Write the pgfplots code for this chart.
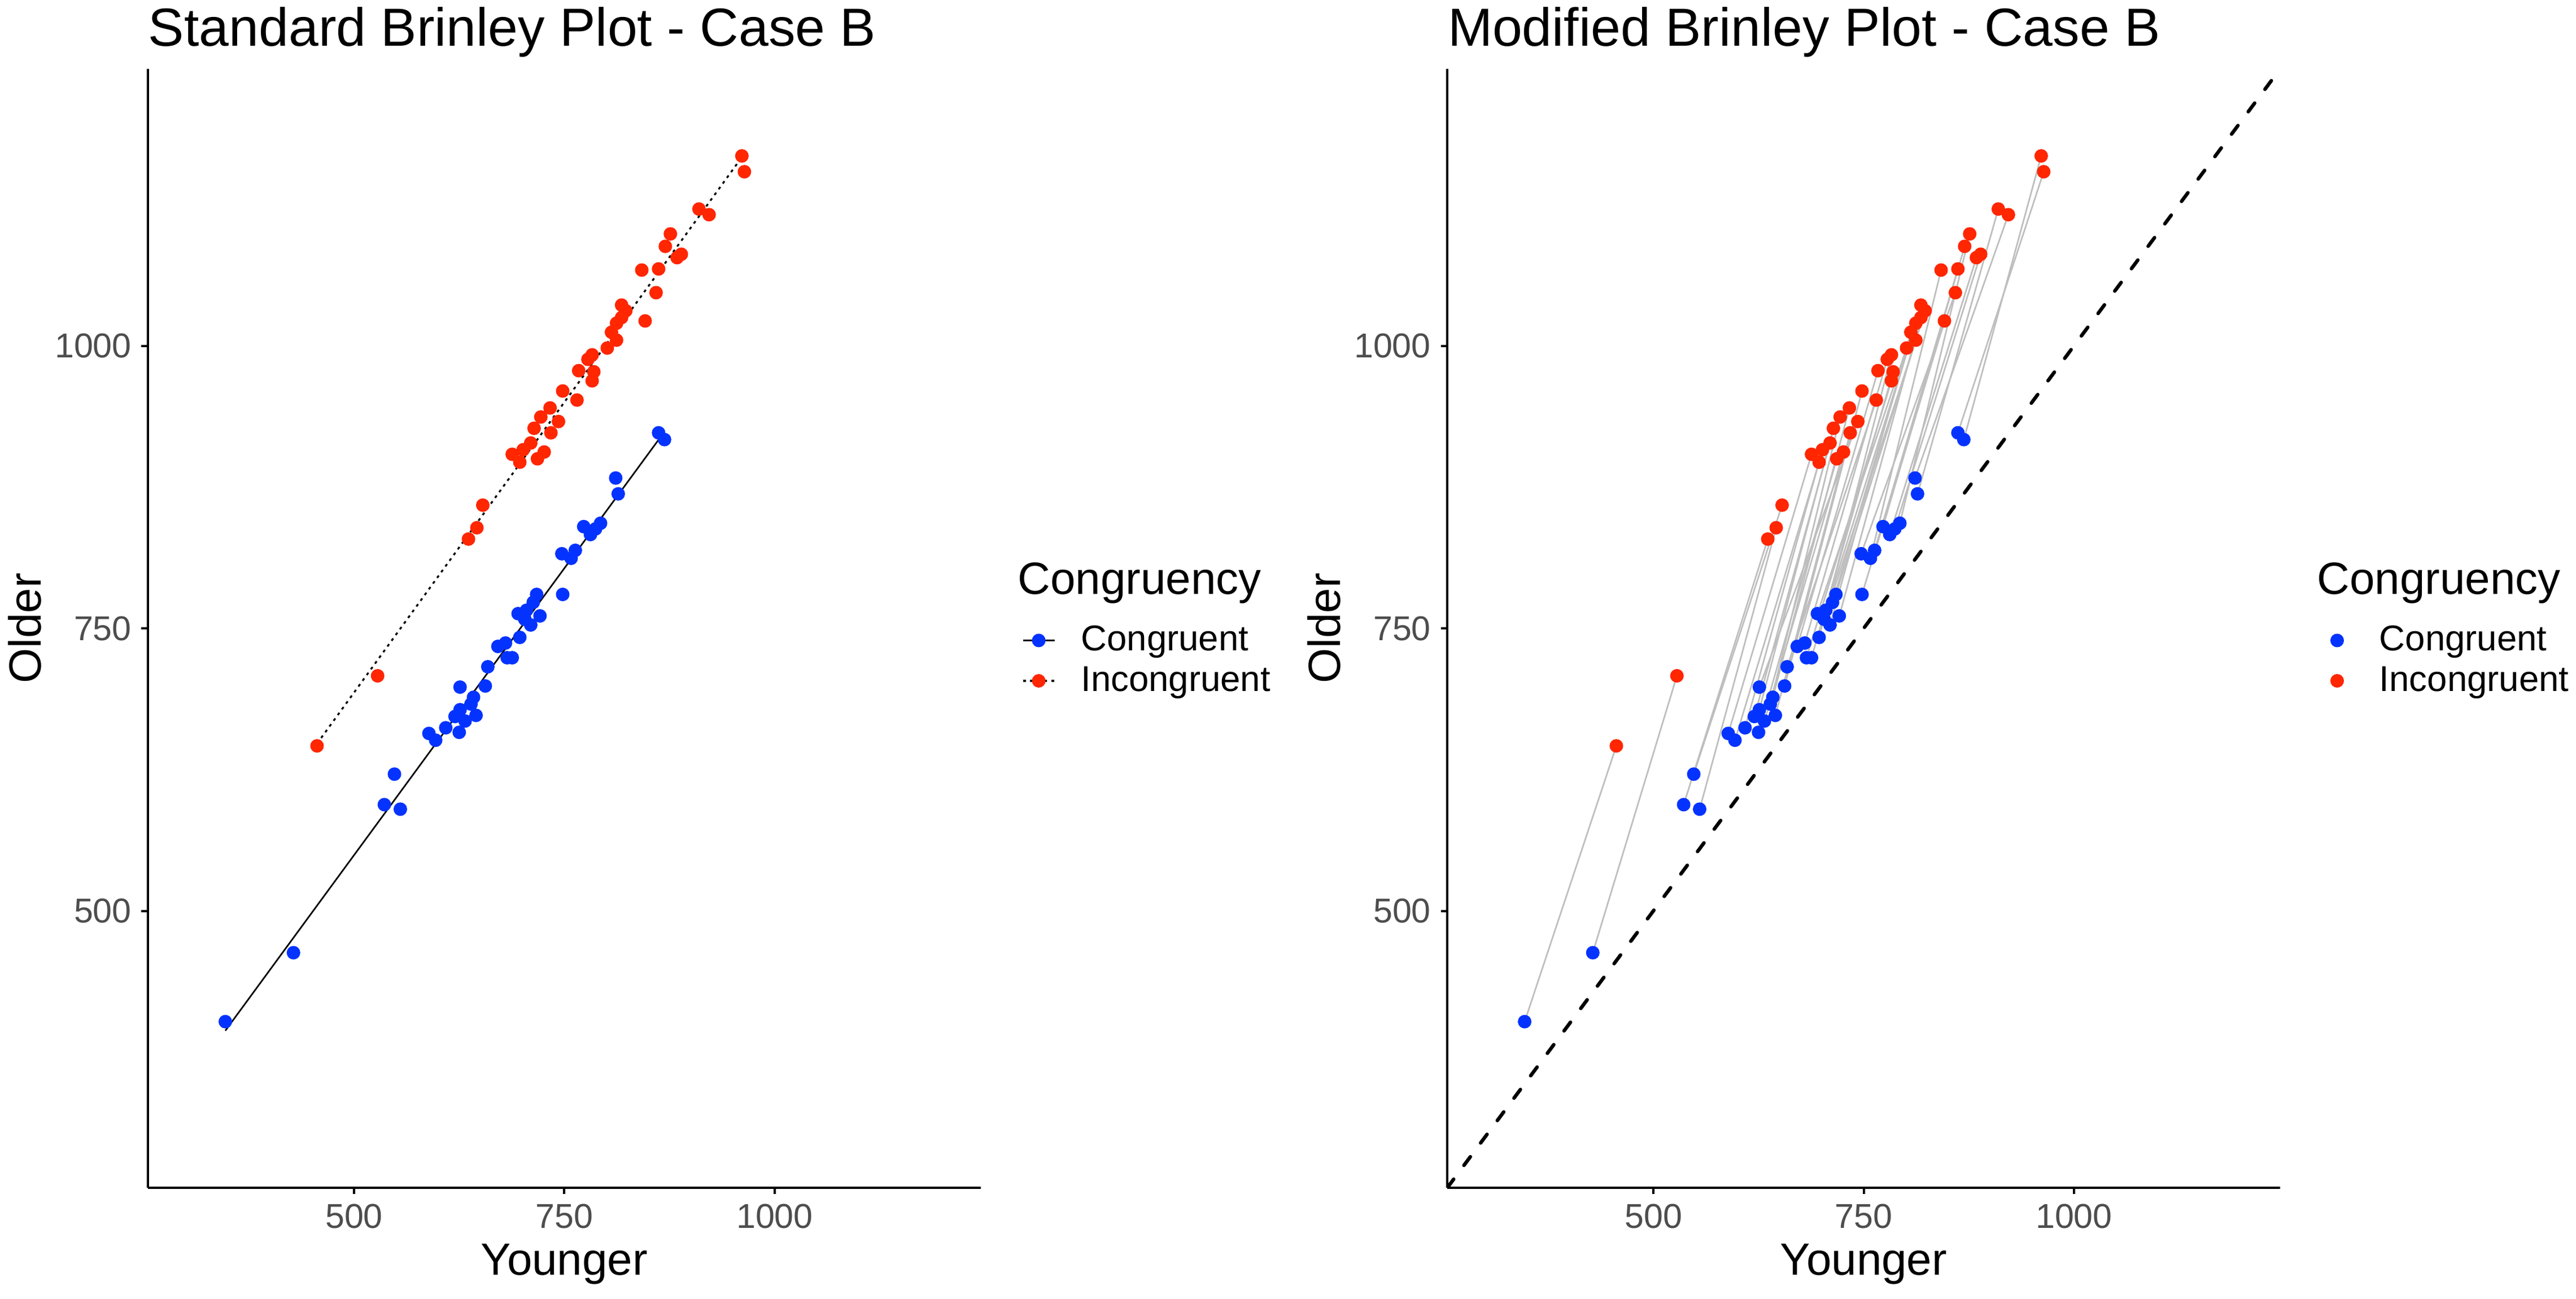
\documentclass[border=0pt]{standalone}
\usepackage{fontspec}
\setmainfont{Liberation Sans}
\usepackage{pgfplots}
\usepackage{pgfplotstable}
\pgfplotsset{compat=1.18}
\definecolor{cblue}{HTML}{0433FF}
\definecolor{cred}{HTML}{FF2600}
\definecolor{segs}{HTML}{BEBEBE}
\definecolor{tickgray}{HTML}{4D4D4D}

% xc,yc = congruent (Younger, Older); xi,yi = incongruent (Younger, Older)
\pgfplotstableread{
xc yc xi yi
347 402 456 646
428 463 528 708
536 594 636 829
555 590 646 839
548 621 653 859
589 657 688 904
597 651 697 897
609 662 701 908
625 658 718 900
620 672 710 914
632 668 726 906
626 678 714 927
645 673 734 923
639 683 722 937
626 698 743 933
642 689 733 945
656 699 748 960
659 716 765 952
671 734 767 978
682 724 783 969
688 724 785 977
680 737 778 988
697 742 783 992
695 763 801 998
703 758 812 1005
710 753 806 1012
705 766 812 1020
721 761 818 1025
713 773 818 1036
717 780 823 1031
748 780 846 1022
747 816 859 1047
758 812 842 1067
763 819 862 1068
773 840 870 1088
781 833 884 1078
787 838 889 1081
793 843 876 1099
814 869 910 1121
811 883 922 1116
862 923 964 1154
869 917 961 1168
}\pairs

\pgfplotsset{
  brin/.style={
    scale only axis, width=295pt, height=396.4pt,
    xmin=255, xmax=1245, ymin=255, ymax=1245,
    axis x line*=bottom, axis y line*=left,
    axis line style={black, line width=0.8pt},
    xtick={500,750,1000}, ytick={500,750,1000},
    major tick style={black, line width=0.8pt},
    tick align=outside, major tick length=2.3pt,
    ticklabel style={font=\fontsize{12.2}{14}\selectfont, text=tickgray},
    /pgf/number format/assume math mode=true,
    /pgf/number format/1000 sep={},
    xlabel={Younger}, ylabel={Older},
    label style={font=\fontsize{16}{19}\selectfont},
    xlabel style={at={([yshift=-27pt]axis description cs:0.5,0)}, anchor=center, inner sep=0pt},
    ylabel style={at={([xshift=-43.6pt]axis description cs:0,0.5)}, anchor=center, inner sep=0pt},
    every axis title/.style={at={(axis description cs:0,1)}, anchor=base west, yshift=8.2pt,
      inner sep=0pt, font=\fontsize{19}{23}\selectfont},
    legend cell align=left,
    legend style={draw=none, fill=none, inner sep=0pt, anchor=west,
      font=\fontsize{12.7}{15}\selectfont, at={(axis description cs:1.0488,0.4712)}},
  },
  dots/.style={only marks, mark=*, mark size=2.2pt, color=#1, mark options={draw=#1, fill=#1}},
}

\begin{document}
\begin{tikzpicture}
\path[use as bounding box] (0,0) rectangle (912.4pt,460.2pt);

% ---------- Left: standard Brinley plot ----------
\begin{axis}[brin, at={(52.4pt,39.4pt)}, anchor=south west,
  title={Standard Brinley Plot - Case B}]
\addplot[dots=cblue,
  legend image code/.code={\draw[black, line width=0.5pt] (0pt,0pt) -- (11.2pt,0pt);
    \fill[cblue] (5.6pt,0pt) circle (2.2pt); \path[draw=none, fill=none] (0pt,0pt) -- (18.6pt,0pt);}]
  table[x=xc, y=yc] {\pairs};
\addlegendentry{Congruent}
\addplot[dots=cred,
  legend image code/.code={\draw[black, line width=0.65pt, dash pattern=on 1pt off 1.5pt] (0pt,0pt) -- (11.2pt,0pt);
    \fill[cred] (5.6pt,0pt) circle (2.2pt); \path[draw=none, fill=none] (0pt,0pt) -- (18.6pt,0pt);}]
  table[x=xi, y=yi] {\pairs};
\addlegendentry{Incongruent}
\addplot[black, line width=0.55pt, forget plot] coordinates {(347,394) (869,924)};
\addplot[black, line width=0.65pt, dash pattern=on 1pt off 1.5pt, forget plot] coordinates {(456,648) (964,1170)};
\end{axis}
\node[anchor=base west, inner sep=0pt, font=\fontsize{16}{19}\selectfont] at (360.3pt,249.6pt) {Congruency};

% ---------- Right: modified Brinley plot ----------
\begin{axis}[brin, at={(512.6pt,39.4pt)}, anchor=south west,
  title={Modified Brinley Plot - Case B}]
\addplot[segs, line width=0.55pt, -, no markers, forget plot,
  quiver={u=\thisrow{xi}-\thisrow{xc}, v=\thisrow{yi}-\thisrow{yc}}]
  table[x=xc, y=yc] {\pairs};
\addplot[dots=cblue,
  legend image code/.code={\fill[cblue] (5.6pt,0pt) circle (2.2pt); \path[draw=none, fill=none] (0pt,0pt) -- (18.6pt,0pt);}]
  table[x=xc, y=yc] {\pairs};
\addlegendentry{Congruent}
\addplot[dots=cred,
  legend image code/.code={\fill[cred] (5.6pt,0pt) circle (2.2pt); \path[draw=none, fill=none] (0pt,0pt) -- (18.6pt,0pt);}]
  table[x=xi, y=yi] {\pairs};
\addlegendentry{Incongruent}
\addplot[black, line width=1.25pt, line cap=round, dash pattern=on 3.8pt off 6.1pt, forget plot] coordinates {(255,255) (1245,1245)};
\end{axis}
\node[anchor=base west, inner sep=0pt, font=\fontsize{16}{19}\selectfont] at (820.5pt,249.6pt) {Congruency};
\end{tikzpicture}
\end{document}
